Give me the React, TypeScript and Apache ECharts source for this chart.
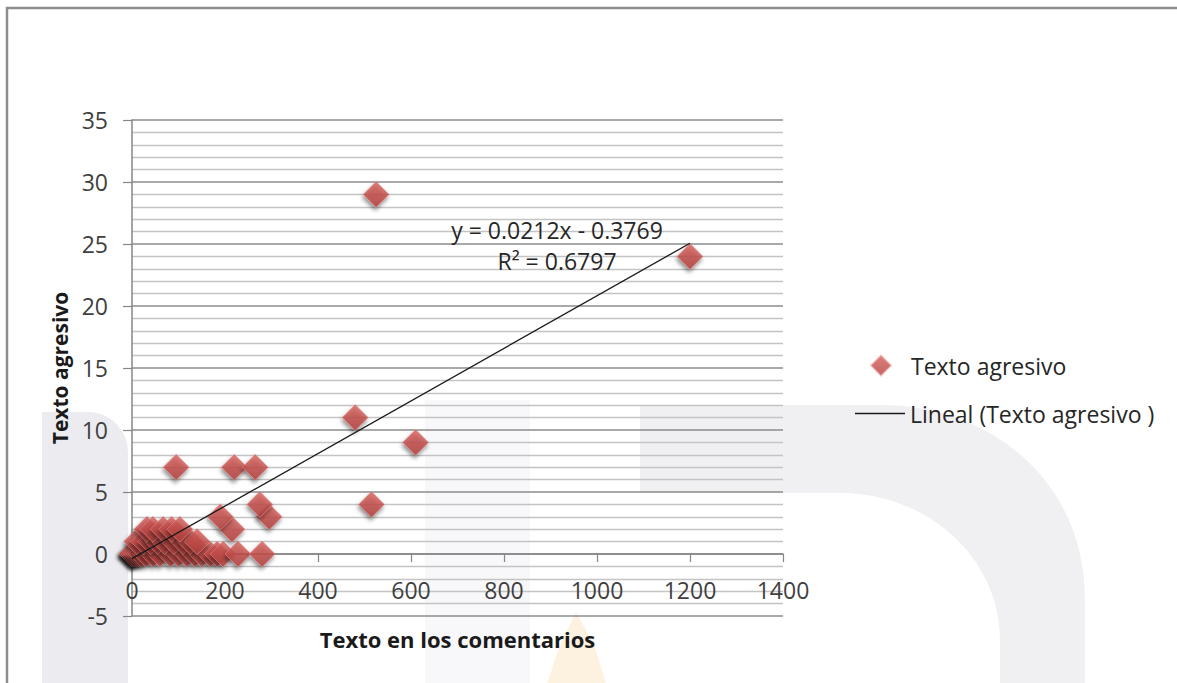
import React, { useEffect, useRef } from "react";
import * as echarts from "echarts";

// ---- data ----
const commentText = [
  0, 0, 0, 0, 5, 10, 15, 20, 30, 45, 60, 82, 100, 118, 135, 150, 168, 183, 196, 228, 280,
  10, 25, 40, 55, 70, 90, 110, 125, 140,
  32, 45, 67, 85, 103, 215,
  190, 295, 275, 515, 95, 220, 265, 610, 480, 1200, 525,
];
const aggressiveText = [
  0, 0, 0, 0, 0, 0, 0, 0, 0, 0, 0, 0, 0, 0, 0, 0, 0, 0, 0, 0, 0,
  1, 1, 1, 1, 1, 1, 1, 1, 1,
  2, 2, 2, 2, 2, 2,
  3, 3, 4, 4, 7, 7, 7, 9, 11, 24, 29,
];
const trendX = [0, 1200];
const trendY = [-0.3769, 25.0631];
const trendEquation = "y = 0.0212x - 0.3769";
const trendR2 = "R² = 0.6797";
const seriesName = "Texto agresivo";
const trendName = "Lineal (Texto agresivo )";
const xTitle = "Texto en los comentarios";
const yTitle = "Texto agresivo";

const FONT = "'Open Sans', Lato, sans-serif";

export default function App() {
  const ref = useRef<HTMLDivElement>(null);

  useEffect(() => {
    if (!ref.current) return;
    const chart = echarts.init(ref.current, undefined, { renderer: "svg" });

    echarts.graphic.registerShape(
      "archmark",
      echarts.graphic.extendPath(
        "M640,405 L880,405 C990,405 1085,480 1085,600 L1085,700 L1000,700 L1000,640 C1000,560 930,493 840,493 L640,493 Z",
        {}
      )
    );

    const scatterData = commentText.map((x, i) => [x, aggressiveText[i]]);
    const trendData = trendX.map((x, i) => [x, trendY[i]]);

    chart.setOption({
      animation: false,
      backgroundColor: "#ffffff",
      textStyle: { fontFamily: FONT },
      grid: {
        left: 132,
        right: 394,
        top: 120,
        bottom: 67,
        containLabel: false,
        outerBoundsMode: "none",
      },
      xAxis: {
        type: "value",
        min: 0,
        max: 1400,
        interval: 200,
        name: xTitle,
        nameLocation: "middle",
        nameGap: 12,
        nameMoveOverlap: false,
        nameTextStyle: { fontFamily: FONT, fontSize: 22, fontWeight: "bold", color: "#1a1a1a" },
        axisLine: { show: true, onZero: true, lineStyle: { color: "#868686", width: 1.5 } },
        axisTick: { show: true, inside: false, length: 8, lineStyle: { color: "#868686", width: 1.2 } },
        axisLabel: {
          fontFamily: FONT,
          fontSize: 23,
          color: "#3f3f3f",
          margin: -38,
          formatter: (v: number) => String(v),
        },
        splitLine: { show: false },
      },
      yAxis: {
        type: "value",
        min: -5,
        max: 35,
        interval: 5,
        name: yTitle,
        nameLocation: "middle",
        nameGap: 62,
        nameRotate: 90,
        nameTextStyle: { fontFamily: FONT, fontSize: 21, fontWeight: "bold", color: "#1a1a1a" },
        axisLine: { show: true, lineStyle: { color: "#868686", width: 1.5 } },
        axisTick: { show: true, length: 9, lineStyle: { color: "#868686", width: 1.2 } },
        axisLabel: { fontFamily: FONT, fontSize: 23, color: "#3f3f3f", margin: 24 },
        splitLine: { show: true, lineStyle: { color: "#8c8c8c", width: 1.5 } },
        minorTick: { show: false, splitNumber: 5 },
        minorSplitLine: { show: true, lineStyle: { color: "#c4c4c4", width: 1.3 } },
      },
      legend: [
        {
          data: [{ name: seriesName, icon: "diamond" }],
          left: 870,
          top: 354,
          padding: 0,
          orient: "vertical",
          itemWidth: 20,
          itemHeight: 20,
          selectedMode: false,
          textStyle: { fontFamily: FONT, fontSize: 23, color: "#262626", padding: [0, 0, 0, 15] },
        },
        {
          data: [
            { name: trendName, icon: "path://M0,0L50,0L50,1.4L0,1.4Z" },
          ],
          left: 855,
          top: 402,
          padding: 0,
          orient: "vertical",
          itemWidth: 50,
          itemHeight: 20,
          selectedMode: false,
          textStyle: { fontFamily: FONT, fontSize: 23, color: "#262626" },
        },
      ],
      series: [
        {
          name: seriesName,
          type: "scatter",
          symbol: "diamond",
          symbolSize: 26,
          z: 3,
          data: scatterData,
          itemStyle: {
            color: {
              type: "linear",
              x: 0,
              y: 0,
              x2: 0,
              y2: 1,
              colorStops: [
                { offset: 0, color: "#d75e5a" },
                { offset: 1, color: "#b23f3c" },
              ],
            },
            borderColor: "rgba(235,150,150,0.55)",
            borderWidth: 1,
            shadowColor: "rgba(0,0,0,0.55)",
            shadowBlur: 4,
            shadowOffsetX: -1,
            shadowOffsetY: 3,
          },
        },
        {
          name: trendName,
          type: "line",
          symbol: "none",
          z: 4,
          data: trendData,
          lineStyle: { color: "#1a1a1a", width: 1.3 },
          itemStyle: { color: "#1a1a1a" },
        },
      ],
      graphic: [
        {
          type: "rect",
          z: -10,
          silent: true,
          shape: { x: 42, y: 412, width: 86, height: 280, r: [0, 40, 0, 0] },
          style: { fill: "#ececf0" },
        },
        {
          type: "archmark",
          z: -10,
          silent: true,
          x: 0,
          y: 0,
          scaleX: 1,
          scaleY: 1,
          style: { fill: "#f0f0f3" },
        },
        {
          type: "rect",
          z: -10,
          silent: true,
          shape: { x: 425, y: 400, width: 105, height: 290 },
          style: { fill: "#f8f8fa" },
        },
        {
          type: "polygon",
          z: -9,
          silent: true,
          shape: { points: [[545, 690], [560, 645], [576, 612], [594, 645], [608, 690]] },
          style: { fill: "#fdf1df" },
        },
        {
          type: "rect",
          z: 20,
          silent: true,
          shape: { x: 7, y: 8, width: 1200, height: 720 },
          style: { fill: "none", stroke: "#8e8e8e", lineWidth: 2.5 },
        },
        {
          type: "text",
          z: 20,
          x: 557,
          y: 230,
          style: {
            text: trendEquation,
            font: `23px ${FONT}`,
            fill: "#262626",
            textAlign: "center",
            textVerticalAlign: "middle",
          },
        },
        {
          type: "text",
          z: 20,
          x: 557,
          y: 261,
          style: {
            text: trendR2,
            font: `23px ${FONT}`,
            fill: "#262626",
            textAlign: "center",
            textVerticalAlign: "middle",
          },
        },
      ],
    });

    return () => chart.dispose();
  }, []);

  return (
    <div
      ref={ref}
      style={{ position: "absolute", left: 0, top: 0, width: 1177, height: 683 }}
    />
  );
}
